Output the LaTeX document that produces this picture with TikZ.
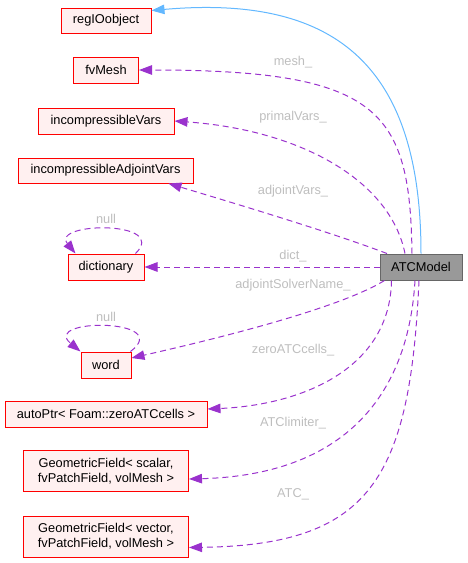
\documentclass[tikz,border=0pt]{standalone}
\usepackage{fontspec}
\setmainfont{Liberation Sans}
\usetikzlibrary{arrows.meta}
\definecolor{nodefill}{HTML}{FFF0F0}
\definecolor{nodeborder}{HTML}{FF0000}
\definecolor{mainfill}{HTML}{999999}
\definecolor{mainborder}{HTML}{666666}
\definecolor{edgepurple}{HTML}{9A32CD}
\definecolor{edgeblue}{HTML}{63B8FF}
\definecolor{labelgray}{HTML}{BEBEBE}
\begin{document}
\begin{tikzpicture}[x=1pt,y=-1pt,
  cls/.style={draw=nodeborder, fill=nodefill, line width=1pt, inner sep=0pt,
    minimum height=26pt, font=\fontsize{12.8}{15}\selectfont, align=center},
  mainnode/.style={cls, draw=mainborder, fill=mainfill},
  usage/.style={draw=edgepurple, line width=1pt, dash pattern=on 6pt off 4pt,
    -{Triangle[length=13pt,width=9.5pt]}},
  inherit/.style={draw=edgeblue, line width=1pt, -{Triangle[length=13pt,width=9.5pt]}},
  lbl/.style={text=labelgray, font=\fontsize{12.8}{15}\selectfont, inner sep=0pt}
]
\useasboundingbox (0,0) rectangle (467,563);

% nodes
\node[cls, minimum width=90pt, minimum height=25pt] (reg) at (106,20.5) {regIOobject};
\node[cls, minimum width=65pt] (mesh) at (106,70) {fvMesh};
\node[cls, minimum width=136pt] (incv) at (106,121) {incompressibleVars};
\node[cls, minimum width=175pt, minimum height=25pt] (adjv) at (105.5,170.5) {incompressibleAdjointVars};
\node[cls, minimum width=76pt] (dict) at (106,267) {dictionary};
\node[cls, minimum width=50pt] (word) at (106,365) {word};
\node[cls, minimum width=202pt] (autop) at (106,414) {autoPtr< Foam::zeroATCcells >};
\node[cls, minimum width=165pt, minimum height=41pt] (gs) at (106,471) {GeometricField< scalar,\\ fvPatchField, volMesh >};
\node[cls, minimum width=165pt, minimum height=41pt] (gv) at (106,536.5) {GeometricField< vector,\\ fvPatchField, volMesh >};
\node[mainnode, minimum width=82pt] (atc) at (421,267) {ATCModel};

% edges
\draw[inherit] (atc.north) .. controls (421,60) and (330,-5) .. ([yshift=10pt]reg.east);
\draw[usage] ([xshift=-9pt]atc.north) .. controls (410,110) and (380,70) .. (mesh.east);
\draw[usage] ([xshift=-16pt]atc.north) .. controls (390,180) and (300,130) .. (incv.east);
\draw[usage] ([xshift=-34pt]atc.north) .. controls (330,232) and (240,205) .. ([xshift=-25pt]adjv.south east);
\draw[usage] (atc.west) -- (dict.east);
\draw[usage] ([xshift=-9pt]dict.north east) .. controls (170,220) and (50,222) .. ([xshift=8pt]dict.north west);
\draw[usage] ([xshift=5pt]atc.south west) .. controls (340,308) and (220,338) .. ([yshift=7pt]word.east);
\draw[usage] ([xshift=-1pt]word.north east) .. controls (175,318) and (40,318) .. (word.north west);
\draw[usage] ([xshift=12pt]atc.south west) .. controls (390,370) and (300,405) .. ([yshift=5pt]autop.east);
\draw[usage] ([xshift=-6pt]atc.south) .. controls (408,400) and (340,475) .. ([yshift=-8pt]gs.east);
\draw[usage] ([xshift=-2pt]atc.south) .. controls (410,480) and (370,545) .. ([yshift=-11pt]gv.east);

% labels
\node[lbl] (lmesh) at (293,62) {mesh\_};
\node[lbl] (lprimal) at (293,117) {primalVars\_};
\node[lbl] (ladj) at (293,191) {adjointVars\_};
\node[lbl] (ldict) at (293,256) {dict\_};
\node[lbl] (lsolver) at (293,285) {adjointSolverName\_};
\node[lbl] (lzero) at (293,350) {zeroATCcells\_};
\node[lbl] (llim) at (293,423) {ATClimiter\_};
\node[lbl] (latc) at (293,494) {ATC\_};
\node[lbl] (lnull1) at (106,219) {null};
\node[lbl] (lnull2) at (106,317) {null};
\end{tikzpicture}
\end{document}
